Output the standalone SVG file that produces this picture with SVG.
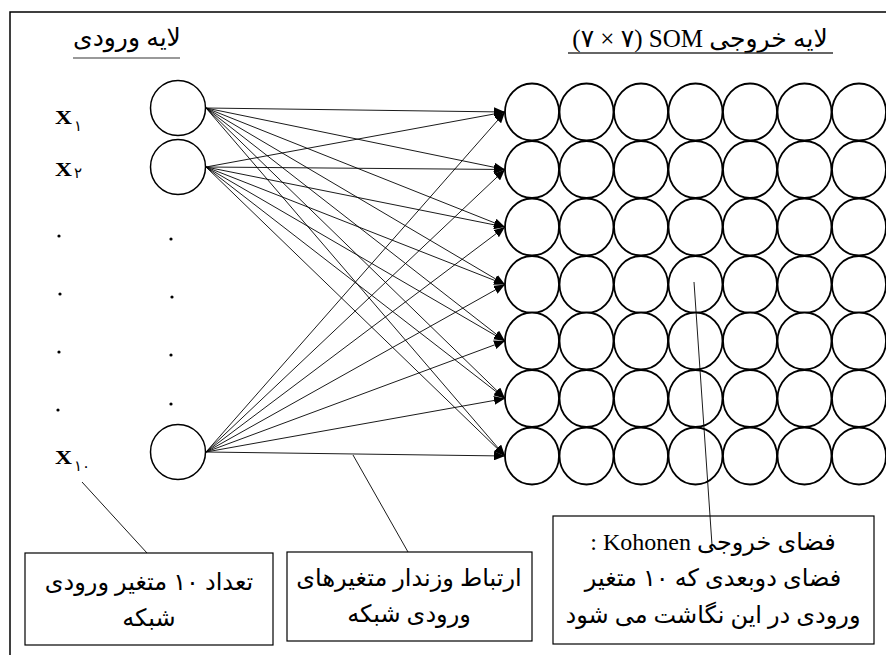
<svg xmlns="http://www.w3.org/2000/svg" width="886" height="655" viewBox="0 0 886 655">
<style>
.node{fill:#fff;stroke:#000;stroke-width:1.8}
.in{fill:#fff;stroke:#000;stroke-width:1.5}
.conn line{stroke:#000;stroke-width:0.9}
.call{stroke:#000;stroke-width:0.9}
.box{fill:#fff;stroke:#000;stroke-width:1.2}
.fa{font-family:"Liberation Serif","DejaVu Sans",serif;font-size:24px;fill:#000;direction:rtl;unicode-bidi:embed;text-anchor:middle}
.ttl{font-size:25px}
.xl{font-family:"Liberation Serif",serif;font-size:19px;fill:#000}
.sub{font-family:"DejaVu Sans",sans-serif;font-size:15px;fill:#000}
.dot{fill:#000}
</style>
<defs>
<marker id="ah" markerUnits="userSpaceOnUse" markerWidth="11" markerHeight="9" refX="11" refY="4.5" orient="auto"><path d="M0,0 L11,4.5 L0,9 z" fill="#000"/></marker>
</defs>
<rect x="10" y="12" width="890" height="660" fill="#fff" stroke="#000" stroke-width="1.5"/>
<g id="title-input">
<text class="fa ttl" x="127" y="46">لایه ورودی</text>
<line x1="73" y1="58" x2="180" y2="58" stroke="#777" stroke-width="1.5"/>
</g>
<g id="title-output">
<text class="fa ttl" x="700" y="47">لایه خروجی SOM&#x200F; (۷ × ۷)</text>
<line x1="568" y1="53" x2="833" y2="53" stroke="#333" stroke-width="1.3"/>
</g>
<g id="labels">
<text class="xl" x="55" y="124" textLength="17" lengthAdjust="spacingAndGlyphs" font-weight="bold">X</text><text class="sub" x="74" y="131">۱</text>
<text class="xl" x="55" y="176" textLength="17" lengthAdjust="spacingAndGlyphs" font-weight="bold">X</text><text class="sub" x="74" y="178">۲</text>
<text class="xl" x="55" y="464" textLength="17" lengthAdjust="spacingAndGlyphs" font-weight="bold">X</text><text class="sub" x="74" y="471">۱۰</text>
<circle class="dot" cx="59" cy="236" r="1.6"/><circle class="dot" cx="60" cy="294" r="1.6"/><circle class="dot" cx="59" cy="352" r="1.6"/><circle class="dot" cx="58" cy="410" r="1.6"/>
<circle class="dot" cx="171" cy="239" r="1.6"/><circle class="dot" cx="172" cy="297" r="1.6"/><circle class="dot" cx="171" cy="355" r="1.6"/><circle class="dot" cx="171" cy="404" r="1.6"/>
</g>
<g id="input-nodes">
<circle id="in1" class="in" cx="178" cy="108" r="27.5"/>
<circle id="in2" class="in" cx="178" cy="167" r="27.5"/>
<circle id="in10" class="in" cx="178" cy="452" r="27.5"/>
</g>
<g id="output-grid">
<g id="row1"><ellipse class="node" cx="532" cy="112" rx="27" ry="28.5"/><ellipse class="node" cx="586.5" cy="112" rx="27" ry="28.5"/><ellipse class="node" cx="641" cy="112" rx="27" ry="28.5"/><ellipse class="node" cx="695.5" cy="112" rx="27" ry="28.5"/><ellipse class="node" cx="750" cy="112" rx="27" ry="28.5"/><ellipse class="node" cx="804.5" cy="112" rx="27" ry="28.5"/><ellipse class="node" cx="859" cy="112" rx="27" ry="28.5"/></g>
<g id="row2"><ellipse class="node" cx="532" cy="169.5" rx="27" ry="28.5"/><ellipse class="node" cx="586.5" cy="169.5" rx="27" ry="28.5"/><ellipse class="node" cx="641" cy="169.5" rx="27" ry="28.5"/><ellipse class="node" cx="695.5" cy="169.5" rx="27" ry="28.5"/><ellipse class="node" cx="750" cy="169.5" rx="27" ry="28.5"/><ellipse class="node" cx="804.5" cy="169.5" rx="27" ry="28.5"/><ellipse class="node" cx="859" cy="169.5" rx="27" ry="28.5"/></g>
<g id="row3"><ellipse class="node" cx="532" cy="227" rx="27" ry="28.5"/><ellipse class="node" cx="586.5" cy="227" rx="27" ry="28.5"/><ellipse class="node" cx="641" cy="227" rx="27" ry="28.5"/><ellipse class="node" cx="695.5" cy="227" rx="27" ry="28.5"/><ellipse class="node" cx="750" cy="227" rx="27" ry="28.5"/><ellipse class="node" cx="804.5" cy="227" rx="27" ry="28.5"/><ellipse class="node" cx="859" cy="227" rx="27" ry="28.5"/></g>
<g id="row4"><ellipse class="node" cx="532" cy="284.5" rx="27" ry="28.5"/><ellipse class="node" cx="586.5" cy="284.5" rx="27" ry="28.5"/><ellipse class="node" cx="641" cy="284.5" rx="27" ry="28.5"/><ellipse class="node" cx="695.5" cy="284.5" rx="27" ry="28.5"/><ellipse class="node" cx="750" cy="284.5" rx="27" ry="28.5"/><ellipse class="node" cx="804.5" cy="284.5" rx="27" ry="28.5"/><ellipse class="node" cx="859" cy="284.5" rx="27" ry="28.5"/></g>
<g id="row5"><ellipse class="node" cx="532" cy="341" rx="27" ry="28.5"/><ellipse class="node" cx="586.5" cy="341" rx="27" ry="28.5"/><ellipse class="node" cx="641" cy="341" rx="27" ry="28.5"/><ellipse class="node" cx="695.5" cy="341" rx="27" ry="28.5"/><ellipse class="node" cx="750" cy="341" rx="27" ry="28.5"/><ellipse class="node" cx="804.5" cy="341" rx="27" ry="28.5"/><ellipse class="node" cx="859" cy="341" rx="27" ry="28.5"/></g>
<g id="row6"><ellipse class="node" cx="532" cy="398.5" rx="27" ry="28.5"/><ellipse class="node" cx="586.5" cy="398.5" rx="27" ry="28.5"/><ellipse class="node" cx="641" cy="398.5" rx="27" ry="28.5"/><ellipse class="node" cx="695.5" cy="398.5" rx="27" ry="28.5"/><ellipse class="node" cx="750" cy="398.5" rx="27" ry="28.5"/><ellipse class="node" cx="804.5" cy="398.5" rx="27" ry="28.5"/><ellipse class="node" cx="859" cy="398.5" rx="27" ry="28.5"/></g>
<g id="row7"><ellipse class="node" cx="532" cy="456" rx="27" ry="28.5"/><ellipse class="node" cx="586.5" cy="456" rx="27" ry="28.5"/><ellipse class="node" cx="641" cy="456" rx="27" ry="28.5"/><ellipse class="node" cx="695.5" cy="456" rx="27" ry="28.5"/><ellipse class="node" cx="750" cy="456" rx="27" ry="28.5"/><ellipse class="node" cx="804.5" cy="456" rx="27" ry="28.5"/><ellipse class="node" cx="859" cy="456" rx="27" ry="28.5"/></g>
</g>
<g id="connectors" class="conn">
<line x1="206" y1="108" x2="505" y2="112" marker-end="url(#ah)"/>
<line x1="206" y1="108" x2="505" y2="169.5" marker-end="url(#ah)"/>
<line x1="206" y1="108" x2="505" y2="227" marker-end="url(#ah)"/>
<line x1="206" y1="108" x2="505" y2="284.5" marker-end="url(#ah)"/>
<line x1="206" y1="108" x2="505" y2="341" marker-end="url(#ah)"/>
<line x1="206" y1="108" x2="505" y2="398.5" marker-end="url(#ah)"/>
<line x1="206" y1="108" x2="505" y2="456" marker-end="url(#ah)"/>
<line x1="206" y1="167" x2="505" y2="112" marker-end="url(#ah)"/>
<line x1="206" y1="167" x2="505" y2="169.5" marker-end="url(#ah)"/>
<line x1="206" y1="167" x2="505" y2="227" marker-end="url(#ah)"/>
<line x1="206" y1="167" x2="505" y2="284.5" marker-end="url(#ah)"/>
<line x1="206" y1="167" x2="505" y2="341" marker-end="url(#ah)"/>
<line x1="206" y1="167" x2="505" y2="398.5" marker-end="url(#ah)"/>
<line x1="206" y1="167" x2="505" y2="456" marker-end="url(#ah)"/>
<line x1="206" y1="452" x2="505" y2="112" marker-end="url(#ah)"/>
<line x1="206" y1="452" x2="505" y2="169.5" marker-end="url(#ah)"/>
<line x1="206" y1="452" x2="505" y2="227" marker-end="url(#ah)"/>
<line x1="206" y1="452" x2="505" y2="284.5" marker-end="url(#ah)"/>
<line x1="206" y1="452" x2="505" y2="341" marker-end="url(#ah)"/>
<line x1="206" y1="452" x2="505" y2="398.5" marker-end="url(#ah)"/>
<line x1="206" y1="452" x2="505" y2="456" marker-end="url(#ah)"/>
</g>
<g id="callout-lines">
<line class="call" x1="82" y1="482" x2="147" y2="553"/>
<line class="call" x1="353" y1="455" x2="408" y2="552"/>
</g>
<g id="callout-inputs">
<rect class="box" x="25" y="553" width="248" height="92"/>
<text class="fa" x="149" y="590">تعداد ۱۰ متغیر ورودی</text>
<text class="fa" x="149" y="626">شبکه</text>
</g>
<g id="callout-weights">
<rect class="box" x="287" y="552" width="245" height="89"/>
<text class="fa" x="409" y="586">ارتباط وزندار متغیرهای</text>
<text class="fa" x="409" y="622">ورودی شبکه</text>
</g>
<g id="callout-kohonen">
<rect class="box" x="553" y="516" width="321" height="128"/>
<text class="fa" x="713" y="550">فضای خروجی Kohonen :</text>
<text class="fa" x="713" y="586">فضای دوبعدی که ۱۰ متغیر</text>
<text class="fa" x="713" y="623">ورودی در این نگاشت می شود</text>
<line class="call" x1="694" y1="282" x2="712" y2="545"/>
</g>
</svg>
